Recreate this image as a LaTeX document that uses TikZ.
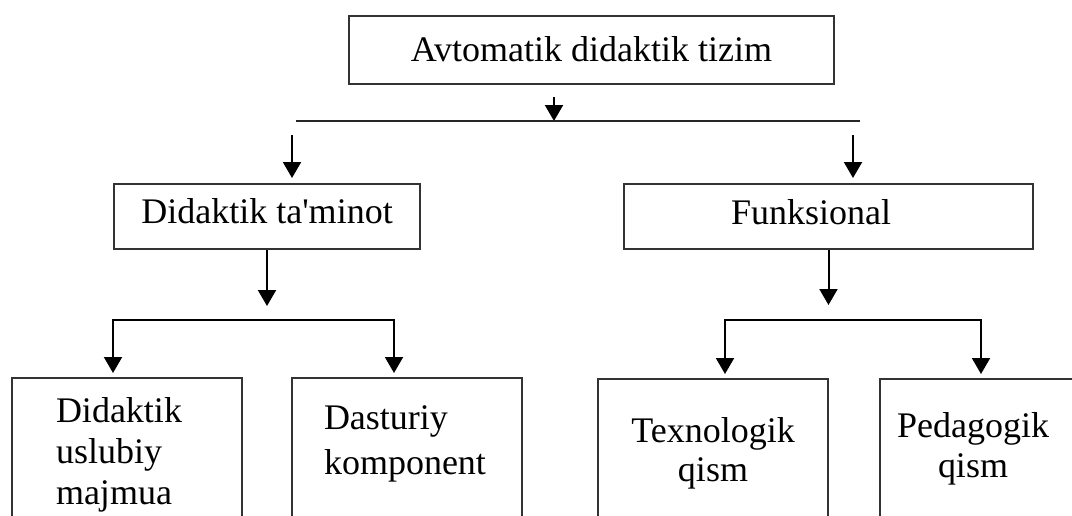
\documentclass[tikz,border=0pt]{standalone}
\usepackage{fontspec}
\setmainfont{Liberation Serif}
\usetikzlibrary{arrows.meta}
\tikzset{
	box/.style={draw=black!80, line width=1pt, inner ysep=0pt, anchor=north west, font=\fontsize{18}{20.5}\selectfont},
	arr/.style={-{Triangle[width=9pt,length=8pt]}, line width=1pt, black},
	bus/.style={line width=1pt, black!85}
}

\begin{document}
\begin{tikzpicture}[x=0.5pt, y=-0.5pt]
		%%%%% START %%%%%
		
		\clip (0, 0) rectangle (1072, 515);
		
		\node[box, minimum width=242.5pt, text height=22.5pt, text depth=11.5pt] (tizim) at (348, 15) {Avtomatik didaktik tizim};
		
		\coordinate (hubin) at (554, 97);
		\coordinate (hub) at (554, 121);
		\coordinate (busL) at (296, 121);
		\coordinate (busR) at (860, 121);
		\draw[arr] (hubin) -- (hub);
		\draw[bus] (busL) -- (busR);
		
		\node[box, minimum width=153pt, text height=19.5pt, text depth=13pt] (dtam) at (113, 183) {Didaktik ta{\textquotesingle}minot};
		\node[box, text width=97.5pt, inner xsep=53.5pt, align=left, text height=20pt, text depth=12.5pt] (funk) at (623, 183) {Funksional};
		
		\coordinate (inL) at (292, 135);
		\coordinate (inR) at (853, 135);
		\draw[arr, shorten >=2.5pt] (inL) -- (inL |- dtam.north);
		\draw[arr, shorten >=2.5pt] (inR) -- (inR |- funk.north);
		
		\draw[arr] (dtam.south) -- +(0, 56);
		\draw[arr] (funk.south) -- +(0, 55);
		
		\node[box, text width=71pt, inner xsep=22pt, align=left, text height=22pt, text depth=69.5pt] (uslub) at (11, 377) {Didaktik\\uslubiy\\majmua};
		\node[box, text width=83pt, inner xsep=16pt, align=left, font=\fontsize{18}{22.5}\selectfont, text height=25.5pt, text depth=66pt] (dast) at (291, 377) {Dasturiy\\komponent};
		\node[box, text width=100pt, inner xsep=7.5pt, align=center, font=\fontsize{18}{19.5}\selectfont, text height=31.5pt, text depth=59.5pt] (texno) at (597, 378) {Texnologik\\qism};
		\node[box, text width=100pt, inner xsep=7.5pt, align=left, font=\fontsize{18}{20}\selectfont, text height=29pt, text depth=62pt] (peda) at (879, 378) {\makebox[78pt]{Pedagogik}\\\makebox[78pt]{qism}};
		
		\coordinate (brL1) at (113, 320);
		\coordinate (brL2) at (394, 320);
		\draw[arr, shorten >=2pt] (brL2) -- (brL1) -- (brL1 |- uslub.north);
		\draw[arr, shorten >=2pt] (brL1) -- (brL2) -- (brL2 |- dast.north);
		
		\coordinate (brR1) at (725, 320);
		\coordinate (brR2) at (981, 320);
		\draw[arr, shorten >=2pt] (brR2) -- (brR1) -- (brR1 |- texno.north);
		\draw[arr, shorten >=2pt] (brR1) -- (brR2) -- (brR2 |- peda.north);
		
		%%%%% END %%%%%
	\end{tikzpicture}
\end{document}
